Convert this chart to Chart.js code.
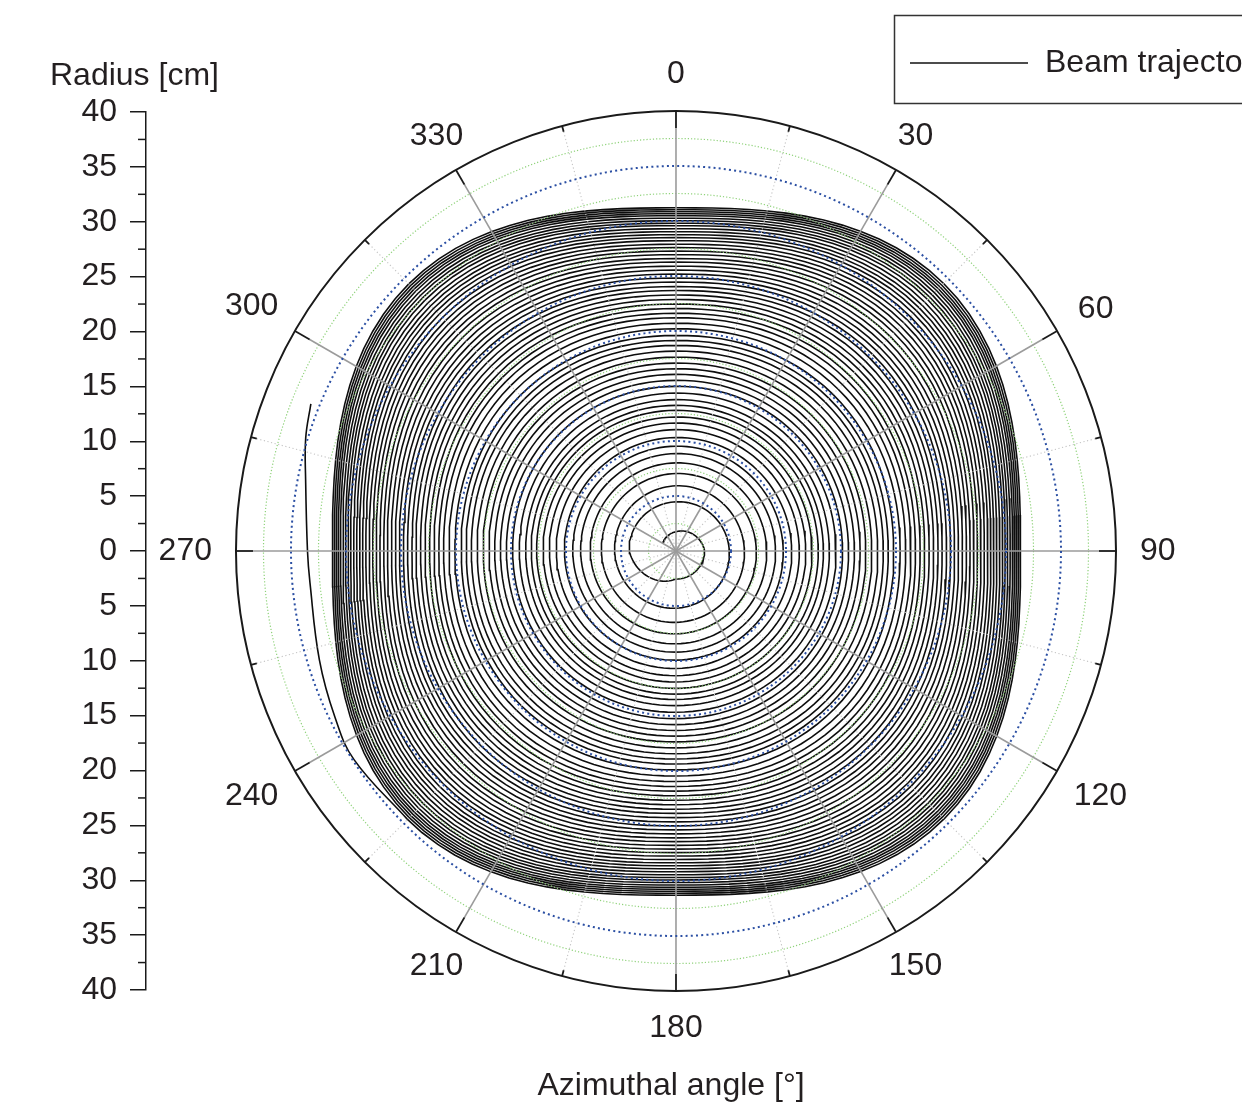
<!DOCTYPE html>
<html>
<head>
<meta charset="utf-8">
<script src="https://cdn.jsdelivr.net/npm/chart.js@4.4.0/dist/chart.umd.min.js"></script>
<style>
    html, body { margin: 0; padding: 0; background: #fff; }
    canvas { display: block; }
</style>
</head>
<body>
<canvas id="chart" width="1242" height="1116"></canvas>
<script>
// --- DATA (cm) ---
// radius where each turn crosses the 0 deg line (top), inner to outer
const turnRadius = [1.75, 4.48, 5.94, 7.06, 8.03, 8.88, 9.55, 10.34, 11.06, 11.66,
    12.21, 12.82, 13.27, 13.79, 14.39, 15.0, 15.55, 16.09, 16.61, 17.12,
    17.66, 18.21, 18.73, 19.18, 19.64, 20.25, 20.75, 21.25, 21.66, 22.09,
    22.5, 22.91, 23.32, 23.73, 24.09, 24.5, 24.86, 25.23, 25.59, 25.95,
    26.32, 26.64, 27.0, 27.32, 27.64, 27.95, 28.27, 28.55, 28.82, 29.09,
    29.36, 29.64, 29.86, 30.09, 30.32, 30.55, 30.73, 30.91, 31.09, 31.27];
// first turn is off centre: radius at start, then at 0/90/180/270/360 deg
const firstTurnAngles = [-60, 0, 90, 180, 270, 360];
const firstTurnRadius = [1.4, 1.75, 2.6, 2.55, 4.25, 4.48];
// how square the orbits get: superellipse exponent vs side radius
const shapeAtRadius = [0, 10, 15, 20, 25, 28, 30, 32];
const shapeExponent = [2.0, 2.0, 2.05, 2.15, 2.35, 2.55, 2.7, 2.8];
// last orbit: where it stops (deg past the final 0 crossing)
const lastTurnEnd = 225;
// extracted tail, azimuth (deg) and radius (cm)
const tailAngle = [225, 237, 244, 253, 265, 270, 281, 287, 292];
const tailRadius = [34.7, 34.9, 34.5, 33.9, 33.4, 33.5, 34.3, 35.2, 35.8];

const radiusMax = 40;
const majorRings = [5, 10, 15, 20, 25, 30, 35];
const minorRings = [2.5, 7.5, 12.5, 17.5, 22.5, 27.5, 32.5, 37.5];
const angleLabels = [0, 30, 60, 90, 120, 150, 180, 210, 240, 270, 300, 330];
const minorAngles = [15, 45, 75, 105, 135, 165, 195, 225, 255, 285, 315, 345];
const radiusMinorTicks = [-37.5, -32.5, -27.5, -22.5, -17.5, -12.5, -7.5, -2.5,
    2.5, 7.5, 12.5, 17.5, 22.5, 27.5, 32.5, 37.5];

const FONT = "'Liberation Sans', Arial, Helvetica, sans-serif";
const TEXT = '#231f20';

// --- PATH BUILDING ---
function lookupShape(r) {
    for (let i = 1; i < shapeAtRadius.length; i++) {
        if (r <= shapeAtRadius[i]) {
            const f = (r - shapeAtRadius[i - 1]) / (shapeAtRadius[i] - shapeAtRadius[i - 1]);
            return shapeExponent[i - 1] + f * (shapeExponent[i] - shapeExponent[i - 1]);
        }
    }
    return shapeExponent[shapeExponent.length - 1];
}

function squircle(az, p) {
    const s = Math.abs(Math.sin(az)), c = Math.abs(Math.cos(az));
    return Math.pow(Math.pow(s, p) + Math.pow(c, p), -1 / p);
}

function toXY(azDeg, r) {
    const a = azDeg * Math.PI / 180;
    return { x: r * Math.sin(a), y: r * Math.cos(a) };
}

function buildSpiral() {
    // knots: azimuth (deg, unwrapped) and side radius
    const knots = [];
    firstTurnAngles.forEach((a, i) => knots.push([a, firstTurnRadius[i]]));
    for (let n = 2; n < turnRadius.length; n++) knots.push([360 * n, turnRadius[n]]);
    const n = turnRadius.length - 1;
    const growth = turnRadius[n] - turnRadius[n - 1];
    knots.push([360 * n + lastTurnEnd, turnRadius[n] + growth * lastTurnEnd / 360]);

    const pts = [];
    for (let k = 0; k < knots.length - 1; k++) {
        const [a0, r0] = knots[k], [a1, r1] = knots[k + 1];
        const steps = Math.max(2, Math.round((a1 - a0) / 3));
        for (let s = 0; s < steps; s++) {
            const az = a0 + (a1 - a0) * s / steps;
            const side = r0 + (r1 - r0) * s / steps;
            const r = side * squircle(az * Math.PI / 180, lookupShape(side));
            pts.push(toXY(az, r));
        }
    }
    const last = knots[knots.length - 1];
    pts.push(toXY(last[0], last[1] * squircle(last[0] * Math.PI / 180, lookupShape(last[1]))));
    return pts;
}

const spiral = buildSpiral();
const tail = [spiral[spiral.length - 1]].concat(tailAngle.slice(1).map((a, i) => toXY(a, tailRadius[i + 1])));

// --- POLAR FRAME PLUGIN ---
function geom(chart) {
    const x = chart.scales.x, y = chart.scales.y;
    const cx = x.getPixelForValue(0), cy = y.getPixelForValue(0);
    return { cx, cy, k: x.getPixelForValue(1) - cx };
}

function spoke(ctx, g, deg, r0, r1) {
    const a = deg * Math.PI / 180;
    ctx.beginPath();
    ctx.moveTo(g.cx + r0 * Math.sin(a), g.cy - r0 * Math.cos(a));
    ctx.lineTo(g.cx + r1 * Math.sin(a), g.cy - r1 * Math.cos(a));
    ctx.stroke();
}

function ring(ctx, g, r) {
    ctx.beginPath();
    ctx.arc(g.cx, g.cy, r * g.k, 0, Math.PI * 2);
    ctx.stroke();
}

const polarFrame = {
    id: 'polarFrame',
    afterDatasetsDraw(chart) {
        const ctx = chart.ctx, g = geom(chart);
        const R = radiusMax * g.k;
        ctx.save();

        // minor rings, green dotted
        ctx.strokeStyle = '#8fd27a';
        ctx.lineWidth = 1.2;
        ctx.setLineDash([1.2, 2]);
        minorRings.forEach(r => ring(ctx, g, r));

        // minor spokes, grey dotted
        ctx.strokeStyle = '#c4c4c4';
        ctx.lineWidth = 1.1;
        ctx.setLineDash([1.2, 2.5]);
        minorAngles.forEach(a => spoke(ctx, g, a, 0, R - 6));

        // major spokes, grey solid
        ctx.setLineDash([]);
        ctx.strokeStyle = '#9b9b9b';
        ctx.lineWidth = 1.6;
        angleLabels.forEach(a => spoke(ctx, g, a, 0, R - 17));

        // major rings, blue dotted
        ctx.strokeStyle = '#2b4fa3';
        ctx.lineWidth = 2;
        ctx.setLineDash([2, 3.2]);
        majorRings.forEach(r => ring(ctx, g, r));

        // outer circle and ticks
        ctx.setLineDash([]);
        ctx.strokeStyle = '#1a1a1a';
        ctx.lineWidth = 2;
        ring(ctx, g, radiusMax);
        ctx.lineWidth = 1.8;
        angleLabels.forEach(a => spoke(ctx, g, a, R - 17, R));
        minorAngles.forEach(a => spoke(ctx, g, a, R - 6, R));

        // angle labels: text box kept a fixed gap outside the circle
        ctx.fillStyle = TEXT;
        ctx.font = '32px ' + FONT;
        ctx.textAlign = 'center';
        ctx.textBaseline = 'middle';
        const gap = R + 24, halfH = 13;
        angleLabels.forEach(a => {
            const t = a * Math.PI / 180, s = Math.abs(Math.sin(t)), c = Math.abs(Math.cos(t));
            const halfW = ctx.measureText(String(a)).width / 2;
            const edge = Math.min(s > 1e-6 ? halfW / s : 1e9, c > 1e-6 ? halfH / c : 1e9);
            const lr = gap + edge;
            ctx.fillText(String(a), g.cx + lr * Math.sin(t), g.cy - lr * Math.cos(t));
        });

        // radius axis minor ticks
        const yScale = chart.scales.y;
        ctx.strokeStyle = '#1a1a1a';
        ctx.lineWidth = 1.5;
        radiusMinorTicks.forEach(v => {
            const py = yScale.getPixelForValue(v);
            ctx.beginPath();
            ctx.moveTo(yScale.right - 8, py);
            ctx.lineTo(yScale.right, py);
            ctx.stroke();
        });

        // axis titles
        ctx.textAlign = 'left';
        ctx.fillText('Radius [cm]', 50, 76);
        ctx.textAlign = 'center';
        ctx.fillText('Azimuthal angle [\u00b0]', 671, 1086);

        // legend box
        ctx.strokeStyle = '#333';
        ctx.lineWidth = 1.5;
        ctx.strokeRect(894.5, 15.5, 370, 88);
        ctx.strokeStyle = '#111';
        ctx.beginPath();
        ctx.moveTo(910, 63);
        ctx.lineTo(1028, 63);
        ctx.stroke();
        ctx.textAlign = 'left';
        ctx.fillText(chart.data.datasets[0].label, 1045, 63);

        ctx.restore();
    }
};

// --- CHART ---
const lineStyle = {
    showLine: true,
    borderColor: '#0d0d0d',
    borderWidth: 1.6,
    pointRadius: 0,
    fill: false
};

new Chart(document.getElementById('chart'), {
    type: 'scatter',
    data: {
        datasets: [
            { label: 'Beam trajectory', data: spiral, tension: 0, ...lineStyle },
            { label: 'tail', data: tail, tension: 0.4, ...lineStyle }
        ]
    },
    options: {
        responsive: false,
        animation: false,
        devicePixelRatio: 1,
        layout: { padding: { left: 0, right: 126, top: 112, bottom: 126 } },
        plugins: { legend: { display: false }, tooltip: { enabled: false } },
        scales: {
            x: { type: 'linear', display: false, min: -48.18, max: 40 },
            y: {
                type: 'linear', position: 'left', min: -40, max: 40,
                afterFit(scale) { scale.width = 146; },
                border: { display: true, color: '#1a1a1a', width: 1.5 },
                grid: { drawOnChartArea: false, drawTicks: true, tickLength: 16, color: '#1a1a1a', lineWidth: 1.5 },
                ticks: {
                    stepSize: 5, padding: 13, color: TEXT,
                    font: { family: FONT, size: 32 },
                    callback: v => Math.abs(v)
                }
            }
        }
    },
    plugins: [polarFrame]
});
</script>
</body>
</html>
